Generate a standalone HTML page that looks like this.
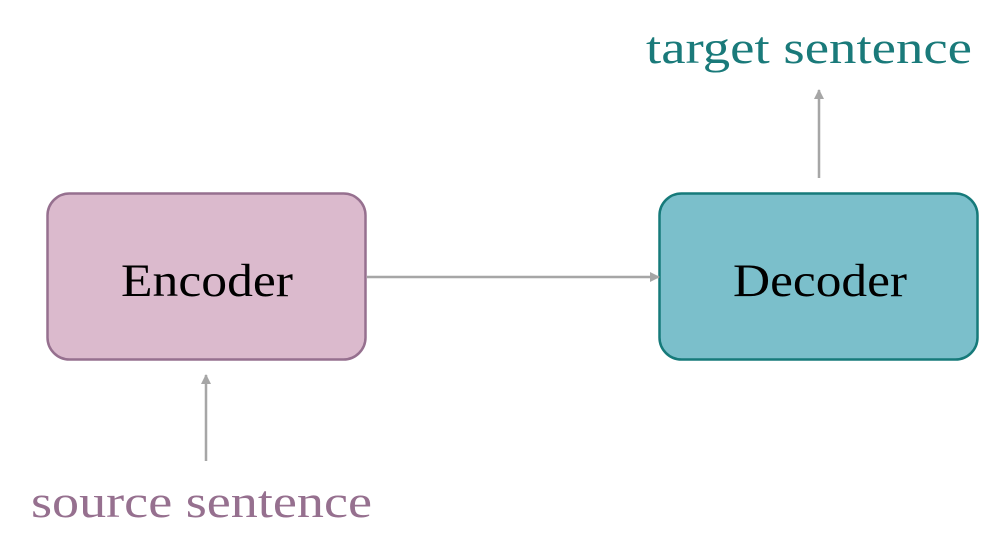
<!DOCTYPE html>
<html><head><meta charset="utf-8"><style>
html,body{margin:0;padding:0;background:#fff;}
body{width:1004px;height:559px;position:relative;overflow:hidden;}
</style></head><body>
<svg width="1004" height="559" viewBox="0 0 1004 559" xmlns="http://www.w3.org/2000/svg" style="position:absolute;left:0;top:0">
<defs>
<marker id="ah" markerWidth="10" markerHeight="10" refX="9" refY="5" orient="auto" markerUnits="userSpaceOnUse">
<path d="M0,0 L10,5 L0,10 z" fill="#a6a6a6"/>
</marker>
</defs>
<rect x="47.5" y="193.5" width="318" height="166" rx="22" ry="22" fill="#dbbacd" stroke="#96708f" stroke-width="2.5"/>
<rect x="659.5" y="193.5" width="318" height="166" rx="22" ry="22" fill="#7bbfcb" stroke="#167a7a" stroke-width="2.5"/>
<line x1="367" y1="277" x2="659" y2="277" stroke="#a6a6a6" stroke-width="2.5" marker-end="url(#ah)"/>
<line x1="206" y1="461" x2="206" y2="375" stroke="#a6a6a6" stroke-width="2.5" marker-end="url(#ah)"/>
<line x1="819" y1="178" x2="819" y2="90" stroke="#a6a6a6" stroke-width="2.5" marker-end="url(#ah)"/>
<text x="121" y="296" textLength="172" lengthAdjust="spacingAndGlyphs" font-family="Liberation Serif, serif" font-size="47" fill="#000">Encoder</text>
<text x="733" y="296" textLength="174" lengthAdjust="spacingAndGlyphs" font-family="Liberation Serif, serif" font-size="47" fill="#000">Decoder</text>
<text x="31" y="517" textLength="341" lengthAdjust="spacingAndGlyphs" font-family="Liberation Serif, serif" font-size="45" fill="#96708f">source sentence</text>
<text x="646" y="63" textLength="326" lengthAdjust="spacingAndGlyphs" font-family="Liberation Serif, serif" font-size="45" fill="#1a7a7a">target sentence</text>
</svg>
</body></html>
